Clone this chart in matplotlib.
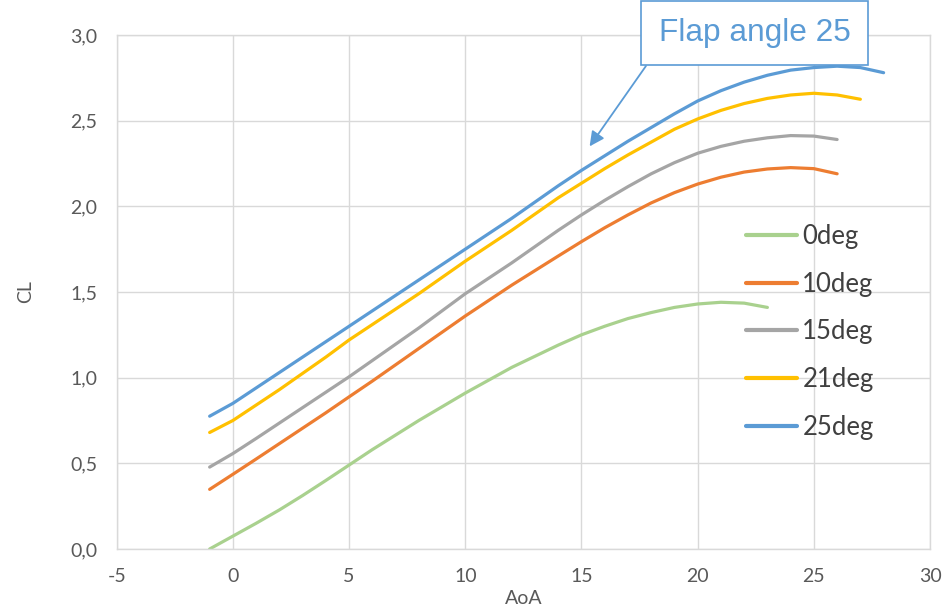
import matplotlib
matplotlib.use("Agg")
import matplotlib.pyplot as plt
from matplotlib.ticker import FuncFormatter, MultipleLocator

plt.rcParams["font.family"] = ["Lato", "DejaVu Sans"]

# CL vs AoA for different flap angles (1 deg steps)
aoa_0 = list(range(-1, 24))
cl_0 = [0.0, 0.075, 0.15, 0.228, 0.312, 0.40, 0.49, 0.58, 0.665, 0.75, 0.83, 0.91,
        0.985, 1.06, 1.125, 1.19, 1.25, 1.30, 1.345, 1.38, 1.41, 1.43, 1.44, 1.435, 1.41]

aoa_10 = list(range(-1, 27))
cl_10 = [0.348, 0.436, 0.525, 0.615, 0.705, 0.795, 0.888, 0.98, 1.075, 1.17, 1.265, 1.36,
         1.45, 1.54, 1.625, 1.71, 1.794, 1.875, 1.95, 2.02, 2.08, 2.13, 2.17, 2.20,
         2.218, 2.226, 2.22, 2.19]

aoa_15 = list(range(-1, 27))
cl_15 = [0.478, 0.557, 0.645, 0.735, 0.825, 0.915, 1.005, 1.10, 1.195, 1.29, 1.39, 1.49,
         1.58, 1.67, 1.765, 1.86, 1.95, 2.035, 2.115, 2.19, 2.255, 2.31, 2.35, 2.38,
         2.40, 2.413, 2.41, 2.39]

aoa_21 = list(range(-1, 28))
cl_21 = [0.68, 0.75, 0.84, 0.93, 1.025, 1.12, 1.22, 1.31, 1.40, 1.49, 1.585, 1.68,
         1.77, 1.86, 1.955, 2.05, 2.135, 2.22, 2.30, 2.375, 2.45, 2.51, 2.56, 2.60,
         2.63, 2.65, 2.66, 2.65, 2.625]

aoa_25 = list(range(-1, 29))
cl_25 = [0.775, 0.85, 0.94, 1.03, 1.12, 1.21, 1.30, 1.39, 1.48, 1.57, 1.66, 1.75,
         1.84, 1.93, 2.025, 2.12, 2.21, 2.295, 2.38, 2.46, 2.54, 2.615, 2.675, 2.725,
         2.765, 2.795, 2.81, 2.818, 2.81, 2.78]

series = [
    ("0deg", aoa_0, cl_0, "#A9D18E"),
    ("10deg", aoa_10, cl_10, "#ED7D31"),
    ("15deg", aoa_15, cl_15, "#A5A5A5"),
    ("21deg", aoa_21, cl_21, "#FFC000"),
    ("25deg", aoa_25, cl_25, "#5B9BD5"),
]

fig = plt.figure(figsize=(9.51, 6.11), dpi=100)
ax = fig.add_axes([0.1227, 0.1015, 0.8553, 0.8412])

for name, x, y, c in series:
    ax.plot(x, y, color=c, linewidth=2.3, label=name,
            solid_capstyle="round", solid_joinstyle="round")

ax.set_xlim(-5, 30)
ax.set_ylim(0, 3.0)
ax.xaxis.set_major_locator(MultipleLocator(5))
ax.yaxis.set_major_locator(MultipleLocator(0.5))
ax.yaxis.set_major_formatter(FuncFormatter(lambda v, p: f"{v:.1f}".replace(".", ",")))
ax.xaxis.set_major_formatter(FuncFormatter(lambda v, p: f"{v:.0f}"))
ax.grid(True, color="#D9D9D9", linewidth=1.0)
ax.set_axisbelow(True)
for s in ax.spines.values():
    s.set_color("#D9D9D9")
    s.set_linewidth(1.0)
ax.tick_params(length=0, labelsize=14, colors="#595959", pad=14)

ax.set_xlabel("AoA", fontsize=14, color="#595959", labelpad=3)
ax.set_ylabel("CL", fontsize=14, color="#595959", labelpad=26)

leg = ax.legend(loc="upper left", bbox_to_anchor=(0.745, 0.677), frameon=False,
                fontsize=18.5, handlelength=2.0, handletextpad=0.2,
                labelspacing=0.88, labelcolor="#404040")
for line in leg.get_lines():
    line.set_linewidth(3)

# callout
ax.annotate("Flap angle 25", xy=(15.35, 2.35), xycoords="data",
            xytext=(754.5, 578), textcoords="figure pixels",
            ha="center", va="center", fontsize=22.8, color="#5B9BD5",
            family=["Liberation Sans", "DejaVu Sans"],
            bbox=dict(boxstyle="square,pad=0.55", fc="white", ec="#5B9BD5", lw=1.2),
            arrowprops=dict(arrowstyle="-|>", color="#5B9BD5", lw=1.3,
                            mutation_scale=22, shrinkA=0, shrinkB=0,
                            relpos=(0, 0)))

fig.savefig("out.png", dpi=100)
